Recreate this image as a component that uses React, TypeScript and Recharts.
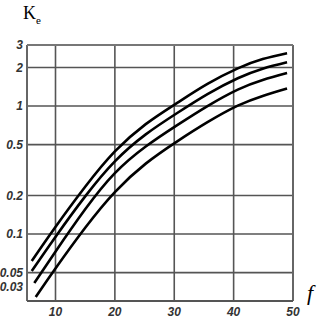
import React from 'react';
import { LineChart, Line, XAxis, YAxis, CartesianGrid, ReferenceLine } from 'recharts';

interface Point {
  f: number;
  k: number;
}

// f values where the curves were read (the first point of each curve differs)
const xCommon = [9.9, 15, 20, 25.2, 30.5, 35.6, 40.7, 44.9, 49];
const curveStarts = [6.0, 6.0, 6.43, 6.67];

const curve1Y = [0.0616, 0.112, 0.234, 0.442, 0.723, 1.06, 1.49, 1.97, 2.33, 2.59];
const curve2Y = [0.0515, 0.0938, 0.197, 0.37, 0.601, 0.883, 1.24, 1.65, 1.96, 2.2];
const curve3Y = [0.0415, 0.0718, 0.156, 0.299, 0.483, 0.71, 1.0, 1.345, 1.6, 1.81];
const curve4Y = [0.0322, 0.0531, 0.112, 0.213, 0.355, 0.53, 0.748, 1.007, 1.2, 1.37];

const yTicks = [0.03, 0.05, 0.1, 0.2, 0.5, 1, 2, 3];
const xTicks = [10, 20, 30, 40, 50];

const build = (start: number, ys: number[]): Point[] =>
  [start, ...xCommon].map((f, i) => ({ f, k: ys[i] }));

const series = [
  build(curveStarts[0], curve1Y),
  build(curveStarts[1], curve2Y),
  build(curveStarts[2], curve3Y),
  build(curveStarts[3], curve4Y),
];

const tickStyle = {
  fontFamily: '"Liberation Sans", Arial, sans-serif',
  fontStyle: 'italic',
  fontWeight: 'bold' as const,
  fontSize: 12,
  fill: '#333',
};

const YTick = (props: any) => {
  const { x, y, payload } = props;
  // the bottom label sits a little above the axis in the original
  const shift = payload.value === 0.03 ? -14 : 0;
  return (
    <text x={x} y={y + shift} dy={4} textAnchor="end" style={tickStyle}>
      {String(payload.value)}
    </text>
  );
};

export default function App() {
  return (
    <div style={{ position: 'absolute', left: 0, top: 0, width: 332, height: 335, background: '#fff' }}>
      <LineChart
        width={332}
        height={335}
        margin={{ top: 45, right: 39, left: 0, bottom: 0 }}
      >
        <CartesianGrid stroke="#555" strokeWidth={1.6} />
        <XAxis
          type="number"
          dataKey="f"
          domain={[5.2, 50]}
          ticks={xTicks}
          interval={0}
          allowDataOverflow
          height={34}
          tickLine={false}
          axisLine={false}
          tickSize={4}
          tickMargin={2}
          tick={tickStyle}
        />
        <YAxis
          type="number"
          dataKey="k"
          scale="log"
          domain={[0.03, 3]}
          ticks={yTicks}
          interval={0}
          allowDataOverflow
          width={27}
          tickLine={false}
          axisLine={false}
          tickSize={2}
          tickMargin={2}
          tick={<YTick />}
        />
        <ReferenceLine x={5.2} stroke="#666" strokeWidth={2} />
        <ReferenceLine x={50} stroke="#666" strokeWidth={2} />
        <ReferenceLine y={3} stroke="#777" strokeWidth={2} />
        <ReferenceLine y={0.03} stroke="#555" strokeWidth={2} />
        {series.map((d, i) => (
          <Line
            key={i}
            data={d}
            dataKey="k"
            type="natural"
            stroke="#000"
            strokeWidth={2.6}
            dot={false}
            isAnimationActive={false}
          />
        ))}
      </LineChart>
      <div
        style={{
          position: 'absolute',
          left: 23,
          top: 3,
          fontFamily: '"Liberation Serif", "Times New Roman", serif',
          fontSize: 18,
          color: '#000',
        }}
      >
        K<sub style={{ fontSize: 11 }}>e</sub>
      </div>
      <div
        style={{
          position: 'absolute',
          left: 307,
          top: 280,
          fontFamily: '"Liberation Serif", "Times New Roman", serif',
          fontStyle: 'italic',
          fontSize: 22,
          color: '#000',
        }}
      >
        f
      </div>
    </div>
  );
}
